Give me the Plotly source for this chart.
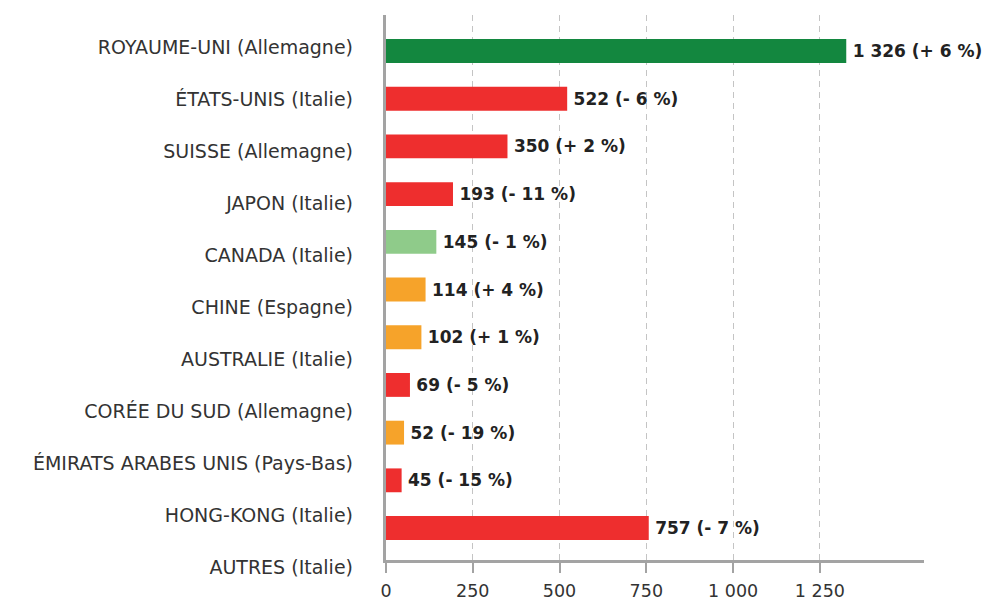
import plotly.graph_objects as go

# destinations (pays concurrent)
categories = [
    "ROYAUME-UNI (Allemagne)", "ÉTATS-UNIS (Italie)", "SUISSE (Allemagne)",
    "JAPON (Italie)", "CANADA (Italie)", "CHINE (Espagne)", "AUSTRALIE (Italie)",
    "CORÉE DU SUD (Allemagne)", "ÉMIRATS ARABES UNIS (Pays-Bas)",
    "HONG-KONG (Italie)", "AUTRES (Italie)",
]
values = [1326, 522, 350, 193, 145, 114, 102, 69, 52, 45, 757]
changes = [6, -6, 2, -11, -1, 4, 1, -5, -19, -15, -7]
colors = ["#13873f", "#ee2e2e", "#ee2e2e", "#ee2e2e", "#8fcb8a", "#f6a32a",
          "#f6a32a", "#ee2e2e", "#f6a32a", "#ee2e2e", "#ee2e2e"]
x_ticks = [0, 250, 500, 750, 1000, 1250]

FONT = "DejaVu Sans"


def fmt(v, c):
    num = f"{v:,}".replace(",", " ")
    sign = "+" if c >= 0 else "-"
    return f"\u2009<b>{num} ({sign} {abs(c)} %)</b>"


labels = [fmt(v, c) for v, c in zip(values, changes)]

fig = go.Figure()

# invisible copy that carries the category labels on its own axis
fig.add_trace(go.Bar(
    x=values, y=categories, orientation="h",
    xaxis="x2", yaxis="y2", opacity=0,
    hoverinfo="skip", showlegend=False,
))

# real bars
fig.add_trace(go.Bar(
    x=values, y=categories, orientation="h",
    marker=dict(color=colors, line=dict(width=0)),
    width=0.5,
    text=labels, textposition="outside", cliponaxis=False,
    textfont=dict(size=17, color="#222222", family=FONT),
    hoverinfo="skip", showlegend=False,
))

fig.update_layout(
    width=985, height=601,
    margin=dict(l=386, r=61, t=15, b=8),
    plot_bgcolor="rgba(0,0,0,0)", paper_bgcolor="white",
    separators=", ",
    font=dict(family=FONT, size=17, color="#333333"),
    xaxis=dict(
        domain=[0, 1], range=[0, 1550], anchor="y", automargin=False,
        tickvals=x_ticks, tickformat=",d",
        showgrid=True, gridcolor="#c4c4c4", griddash="6px,5px", gridwidth=1,
        zeroline=False, showline=True, linecolor="#a3a3a3", linewidth=3,
        ticks="outside", ticklen=10, tickcolor="#a3a3a3", tickwidth=2,
        ticklabelstandoff=3,
        tickfont=dict(size=17.5, color="#333333"),
    ),
    yaxis=dict(
        domain=[0.0571, 1], range=[10.67, -0.755], anchor="x",
        automargin=False,
        showticklabels=False, showgrid=False, zeroline=False,
        showline=True, linecolor="#a3a3a3", linewidth=3,
    ),
    xaxis2=dict(
        domain=[0, 1], range=[0, 1550], anchor="y2", visible=False,
    ),
    yaxis2=dict(
        domain=[0, 1], range=[10.5, -0.615], anchor="x2", automargin=False,
        showgrid=False, zeroline=False, showline=False,
        ticks="", ticklabelstandoff=32,
        tickfont=dict(size=19, color="#333333"),
    ),
)

# no page margin so the 985x601 figure fills the window exactly
fig.write_html(
    "out.html",
    config={"displayModeBar": False},
    post_script="document.body.style.margin = '0';",
)
